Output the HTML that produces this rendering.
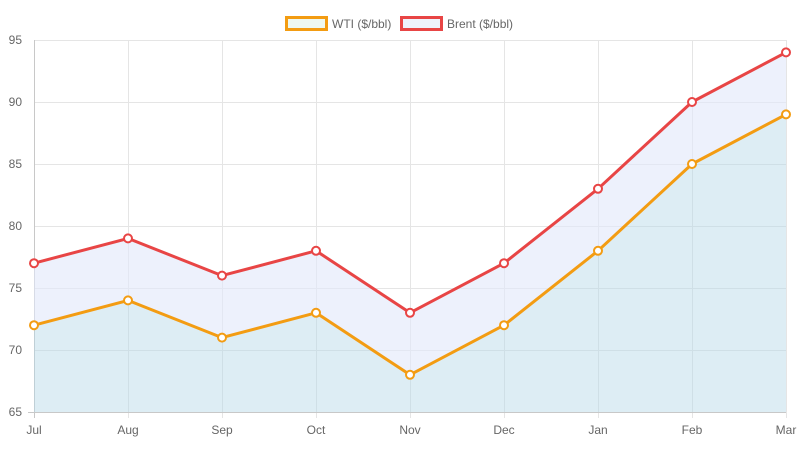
<!DOCTYPE html>
<html><head><style>
html,body{margin:0;padding:0;background:#fff;}
svg text{font-family:"Liberation Sans",sans-serif;font-size:12px;fill:#666;}
</style></head><body>
<svg width="800" height="450" xmlns="http://www.w3.org/2000/svg">
<g stroke="#e5e5e5" stroke-width="1">
<line x1="34" y1="40.5" x2="786" y2="40.5"/>
<line x1="34" y1="102.5" x2="786" y2="102.5"/>
<line x1="34" y1="164.5" x2="786" y2="164.5"/>
<line x1="34" y1="226.5" x2="786" y2="226.5"/>
<line x1="34" y1="288.5" x2="786" y2="288.5"/>
<line x1="34" y1="350.5" x2="786" y2="350.5"/>
<line x1="34" y1="412.5" x2="786" y2="412.5"/>
<line x1="128.5" y1="40" x2="128.5" y2="418"/>
<line x1="222.5" y1="40" x2="222.5" y2="418"/>
<line x1="316.5" y1="40" x2="316.5" y2="418"/>
<line x1="410.5" y1="40" x2="410.5" y2="418"/>
<line x1="504.5" y1="40" x2="504.5" y2="418"/>
<line x1="598.5" y1="40" x2="598.5" y2="418"/>
<line x1="692.5" y1="40" x2="692.5" y2="418"/>
<line x1="786.5" y1="40" x2="786.5" y2="418"/>
</g>
<line x1="34.5" y1="40" x2="34.5" y2="418" stroke="#c8c8c8"/>
<line x1="28" y1="412.5" x2="786" y2="412.5" stroke="#c8c8c8"/>
<polygon fill="rgba(180,215,230,0.45)" points="34,325.2 128,300.4 222,337.6 316,312.8 410,374.8 504,325.2 598,250.8 692,164 786,114.4 786,412 34,412"/>
<polygon fill="rgba(225,232,250,0.6)" points="34,263.2 128,238.4 222,275.6 316,250.8 410,312.8 504,263.2 598,188.8 692,102 786,52.4 786,114.4 692,164 598,250.8 504,325.2 410,374.8 316,312.8 222,337.6 128,300.4 34,325.2"/>
<polyline fill="none" stroke="#f39c12" stroke-width="3" stroke-linejoin="round" points="34,325.2 128,300.4 222,337.6 316,312.8 410,374.8 504,325.2 598,250.8 692,164 786,114.4"/>
<polyline fill="none" stroke="#e84545" stroke-width="3" stroke-linejoin="round" points="34,263.2 128,238.4 222,275.6 316,250.8 410,312.8 504,263.2 598,188.8 692,102 786,52.4"/>
<g fill="#fff" stroke="#f39c12" stroke-width="2">
<circle cx="34" cy="325.2" r="4"/><circle cx="128" cy="300.4" r="4"/><circle cx="222" cy="337.6" r="4"/><circle cx="316" cy="312.8" r="4"/><circle cx="410" cy="374.8" r="4"/><circle cx="504" cy="325.2" r="4"/><circle cx="598" cy="250.8" r="4"/><circle cx="692" cy="164" r="4"/><circle cx="786" cy="114.4" r="4"/>
</g>
<g fill="#fff" stroke="#e84545" stroke-width="2">
<circle cx="34" cy="263.2" r="4"/><circle cx="128" cy="238.4" r="4"/><circle cx="222" cy="275.6" r="4"/><circle cx="316" cy="250.8" r="4"/><circle cx="410" cy="312.8" r="4"/><circle cx="504" cy="263.2" r="4"/><circle cx="598" cy="188.8" r="4"/><circle cx="692" cy="102" r="4"/><circle cx="786" cy="52.4" r="4"/>
</g>
<g text-anchor="end">
<text x="22" y="44">95</text><text x="22" y="106">90</text><text x="22" y="168">85</text><text x="22" y="230">80</text><text x="22" y="292">75</text><text x="22" y="354">70</text><text x="22" y="416">65</text>
</g>
<g text-anchor="middle">
<text x="34" y="434">Jul</text><text x="128" y="434">Aug</text><text x="222" y="434">Sep</text><text x="316" y="434">Oct</text><text x="410" y="434">Nov</text><text x="504" y="434">Dec</text><text x="598" y="434">Jan</text><text x="692" y="434">Feb</text><text x="786" y="434">Mar</text>
</g>
<rect x="286.5" y="17.5" width="40" height="12" fill="#eef8f0" stroke="#f39c12" stroke-width="3"/>
<text x="332" y="28">WTI ($/bbl)</text>
<rect x="401.5" y="17.5" width="40" height="12" fill="#eef3fc" stroke="#e84545" stroke-width="3"/>
<text x="447" y="28">Brent ($/bbl)</text>
</svg>
</body></html>
